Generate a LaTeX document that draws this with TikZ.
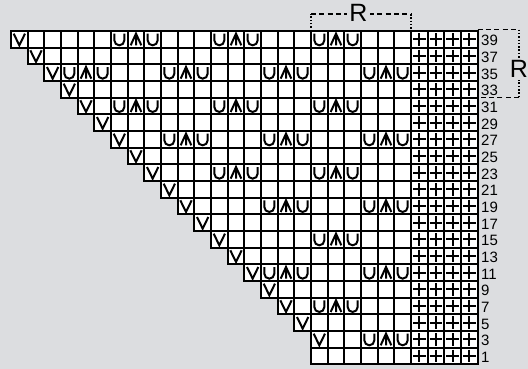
\documentclass[tikz,border=0pt]{standalone}
\usepackage{fontspec}
\setmainfont{Liberation Sans}
\usetikzlibrary{calc}

\definecolor{chartbg}{RGB}{220,221,224}

% chart symbols, #1 = column, #2 = row (from the top)
\newcommand\symV[2]{\draw[stitch] (#1+0.16,-#2-0.16) -- (#1+0.5,-#2-0.86) -- (#1+0.84,-#2-0.16);}
\newcommand\symU[2]{\draw[stitch] (#1+0.2,-#2-0.16) -- (#1+0.2,-#2-0.56) arc[start angle=180, end angle=360, radius=0.3] -- (#1+0.8,-#2-0.16);}
\newcommand\symA[2]{\draw[stitch] (#1+0.18,-#2-0.86) -- (#1+0.5,-#2-0.16) -- (#1+0.82,-#2-0.86)
  (#1+0.5,-#2-0.16) -- (#1+0.5,-#2-0.86);}
\newcommand\symPlus[2]{\draw[stitch] (#1+0.12,-#2-0.5) -- (#1+0.88,-#2-0.5)
  (#1+0.5,-#2-0.12) -- (#1+0.5,-#2-0.88);}

\begin{document}
\begin{tikzpicture}[
  x=16.667pt, y=16.667pt,
  cell/.style={draw=black, fill=white, line width=1.9pt},
  stitch/.style={line width=2pt, line join=miter},
  rowno/.style={anchor=west, inner sep=0pt, font=\fontsize{15}{15}\selectfont},
  rep/.style={line width=1.4pt, dash pattern=on 5pt off 3.3pt},
  repv/.style={line width=1.4pt, dash pattern=on 1.5pt off 1.8pt},
  replbl/.style={font=\fontsize{25}{25}\selectfont, fill=chartbg, inner sep=2pt},
]

% background and frame
\fill[chartbg] (-0.66,1.86) rectangle (31.02,-20.28);
\useasboundingbox (-0.66,1.86) rectangle (31.02,-20.28);

% grid: each row starts one stitch further right
\foreach \r in {0,...,19} {
  \pgfmathtruncatemacro\s{min(\r,18)}
  \foreach \c in {\s,...,27}
    \draw[cell] (\c,-\r) rectangle ++(1,-1);
}

% slipped stitch at the start of each row
\foreach \r in {0,...,18} {
  \symV{\r}{\r}
}

% yo, double decrease, yo
\foreach \r/\ms in {0/{6,12,18},2/{3,9,15,21},4/{6,12,18},6/{9,15,21},8/{12,18},
                    10/{15,21},12/{18},14/{15,21},16/{18},18/{21}} {
  \foreach \m in \ms {
    \symU{\m}{\r}
    \symA{\m+1}{\r}
    \symU{\m+2}{\r}
  }
}

% border stitches
\foreach \r in {0,...,19} {
  \foreach \c in {24,...,27} {
    \symPlus{\c}{\r}
  }
}

% row numbers
\foreach \r in {0,...,19} {
  \pgfmathtruncatemacro\n{39-2*\r}
  \node[rowno] (row\n) at (28.2,-\r-0.58) {\n};
}

% repeat brackets
\coordinate (wideA) at (18,0);
\coordinate (wideB) at (24,0);
\coordinate (wideC) at (18,1.02);
\coordinate (wideD) at (24,1.02);
\draw[repv] (wideA) -- (wideC);
\draw[rep] (wideC) -- (wideD);
\draw[repv] (wideD) -- (wideB);
\node[replbl] (repW) at (20.85,1.1) {R};

\coordinate (highA) at (28,0.08);
\coordinate (highB) at (30.48,0.08);
\coordinate (highC) at (30.48,-4);
\coordinate (highD) at (28,-4);
\draw[rep] (highA) -- (highB);
\draw[repv] (highB) -- (highC);
\draw[rep] (highC) -- (highD);
\node[replbl] (repH) at (30.48,-2.3) {R};

\end{tikzpicture}
\end{document}
